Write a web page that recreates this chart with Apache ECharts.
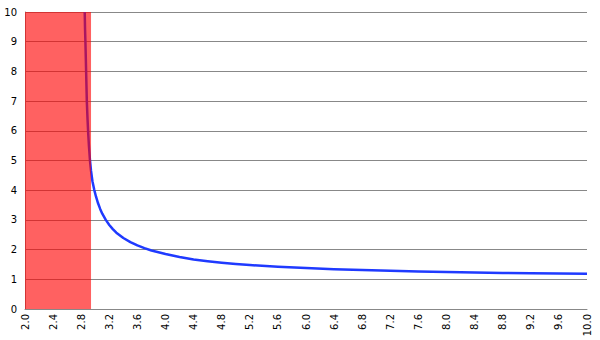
<!DOCTYPE html>
<html>
<head>
<meta charset="utf-8">
<script src="https://cdn.jsdelivr.net/npm/echarts@6/dist/echarts.min.js"></script>
<style>html,body{margin:0;padding:0;background:#fff}#c{width:600px;height:340px}</style>
</head>
<body>
<div id="c"></div>
<script>
// Curve values
var curveX = [2.85, 2.855, 2.86, 2.865, 2.87, 2.875, 2.88, 2.89, 2.9, 2.91, 2.925, 2.94, 2.96, 2.985, 3.01, 3.04, 3.07, 3.1, 3.15, 3.2, 3.25, 3.3, 3.4, 3.5, 3.6, 3.7, 3.8, 4.0, 4.2, 4.4, 4.6, 4.8, 5.0, 5.2, 5.6, 6.0, 6.4, 6.8, 7.2, 7.6, 8.0, 8.4, 8.8, 9.2, 9.6, 10.0];
var curveY = [10, 9.4, 9, 8.5, 8, 7.5, 7, 6.4, 5.9, 5.5, 5, 4.65, 4.3, 4.02, 3.79, 3.56, 3.37, 3.21, 3.0, 2.83, 2.69, 2.57, 2.39, 2.25, 2.14, 2.05, 1.97, 1.85, 1.75, 1.67, 1.61, 1.56, 1.515, 1.48, 1.42, 1.38, 1.34, 1.31, 1.285, 1.265, 1.245, 1.23, 1.215, 1.205, 1.195, 1.19];
// Shaded band (x from / to) and its height
var bandX = [2.0, 2.94];
var bandTop = 10;
// Axis settings
var xMin = 2, xMax = 10, xStep = 0.4;
var yMin = 0, yMax = 10, yStep = 1;

var curve = curveX.map(function (x, i) { return [x, curveY[i]]; });
var band = bandX.map(function (x) { return [x, bandTop]; });

var chart = echarts.init(document.getElementById('c'), null, { renderer: 'svg' });
chart.setOption({
  animation: false,
  grid: { left: 25, right: 13, top: 12, bottom: 31 },
  xAxis: [{
    type: 'value', min: xMin, max: xMax, interval: xStep,
    axisLine: { show: true, lineStyle: { color: '#888', width: 1 } },
    axisTick: { show: false },
    splitLine: { show: false },
    axisLabel: {
      rotate: 90, margin: 5,
      color: '#000', fontSize: 10, fontFamily: 'DejaVu Sans',
      formatter: function (v) { return Number(v).toFixed(1); }
    }
  }],
  yAxis: [{
    type: 'value', min: yMin, max: yMax, interval: yStep,
    axisLine: { show: true, lineStyle: { color: '#888', width: 1 } },
    axisTick: { show: false },
    splitLine: { show: true, lineStyle: { color: '#888', width: 1 } },
    axisLabel: { margin: 8, color: '#000', fontSize: 10, fontFamily: 'DejaVu Sans' }
  }],
  series: [
    {
      type: 'line', data: curve, smooth: false,
      symbol: 'none', z: 2,
      lineStyle: { color: '#1f3aff', width: 2.5, join: 'round' }
    },
    {
      type: 'line', data: band, symbol: 'none', z: 10,
      lineStyle: { width: 0 },
      areaStyle: { color: 'rgba(255,0,0,0.62)', opacity: 1 }
    }
  ]
});
</script>
</body>
</html>
